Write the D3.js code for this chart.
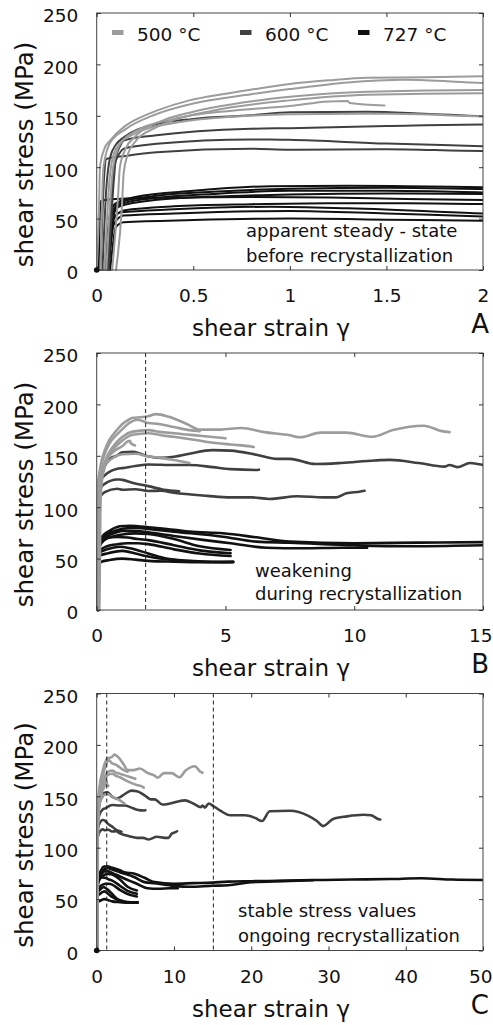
<!DOCTYPE html>
<html><head><meta charset="utf-8">
<script src="https://cdn.jsdelivr.net/npm/d3@7"></script>
<style>
body{margin:0;background:#fff}
svg{display:block}
text{font-family:"DejaVu Sans",sans-serif;fill:#111}
</style>
</head><body><svg id="c" width="493" height="1025"></svg>
<script>
// ---------------- DATA ----------------
const temperatures = ["500 °C", "600 °C", "727 °C"];
const yTicks = [0, 50, 100, 150, 200, 250];
const xTicksA = [0, 0.5, 1, 1.5, 2];
const xTicksB = [0, 5, 10, 15];
const xTicksC = [0, 10, 20, 30, 40, 50];
const xMaxes = [2, 15, 50];
const dashedB = [1.9];
const dashedC = [1.3, 15.1];
const notesA = ["apparent steady - state", "before recrystallization"];
const notesB = ["weakening", "during recrystallization"];
const notesC = ["stable stress values", "ongoing recrystallization"];
const panelLetters = ["A", "B", "C"];
const xTitle = "shear strain γ";
const yTitle = "shear stress (MPa)";

// [shear strain, shear stress MPa]
const curves500 = [
  [[0,0],[0.012,60],[0.017,100],[0.04,118],[0.07,126],[0.14,139],[0.2,146],[0.31,155],[0.48,165],[0.65,171],[0.8,175.5],[1.0,181],[1.2,184.5],[1.4,187],[1.7,187.5],[2.0,188.5],[2.3,190.5],[2.8,188],[3.5,181],[4.0,175.5],[4.8,175.5],[5.6,177],[6.5,173],[7.5,170],[7.9,168],[8.7,172.5],[9.7,172.5],[10.7,168.5],[11.5,175],[12.7,179.3],[13.4,174],[13.7,173]],
  [[0.02,0],[0.035,100],[0.07,124],[0.15,137],[0.3,151],[0.5,162],[0.8,171],[1.0,176],[1.3,182.5],[1.6,185],[2.0,182],[2.4,181],[3.0,178],[3.6,175],[4.0,174]],
  [[0.08,0],[0.11,70],[0.12,100],[0.15,118],[0.2,130],[0.35,146],[0.5,154],[0.8,164],[1.0,168.5],[1.4,173.5],[2.0,175],[2.5,173],[3.0,172],[4.0,169.5],[5.0,167]],
  [[0.1,0],[0.13,60],[0.14,95],[0.16,112],[0.2,125],[0.3,138],[0.4,146],[0.6,155],[1.0,165],[1.4,170.5],[2.0,172],[2.5,170],[3.0,168.5],[4.3,163.5],[5.2,161],[6.0,159],[6.1,158.5]],
  [[0.05,0],[0.085,100],[0.12,122],[0.2,135],[0.4,147],[0.7,155],[1.0,159.5],[1.2,164],[1.3,164.5],[1.31,162.5],[1.49,160]],
  [[0.04,0],[0.07,95],[0.1,118],[0.2,133],[0.4,143],[0.7,149],[1.0,151.5],[1.5,152],[2.0,149.5],[2.5,148],[3.0,146],[3.6,143]]
];
const curves600 = [
  [[0.03,0],[0.05,80],[0.07,110],[0.1,122],[0.14,129],[0.31,142],[0.5,147],[0.8,150.5],[1.0,153.5],[1.4,154],[1.7,152],[2.0,149.5],[2.5,148],[3.0,149],[3.6,152],[4.5,155.5],[5.2,155],[6.2,151],[7.0,147],[7.5,147],[8.5,142],[9.5,143],[10.8,145.5],[11.4,146],[12.5,143],[13.5,139.5],[13.7,141],[14.0,139],[14.5,143],[15.1,140.5],[16.0,136],[17.3,131.5],[19.2,131.5],[20.5,129],[21.4,126],[22.4,135.5],[25.0,136],[27.4,131],[28.5,126],[29.3,121],[30.6,128],[32.4,130.5],[34.5,132],[35.5,131.5],[36.4,128],[36.7,127.5]],
  [[0.06,0],[0.09,90],[0.1,110],[0.12,120],[0.14,126],[0.31,131],[0.8,137.4],[1.0,138],[1.5,140],[2.0,141.6],[3.0,141],[3.6,141],[4.5,139],[5.2,137],[6.2,136.2],[6.3,136.5]],
  [[0.06,0],[0.09,100],[0.12,114],[0.14,118],[0.31,122.7],[0.8,127],[0.9,127],[1.0,126.6],[1.5,123],[2.0,120.5],[2.6,117],[3.0,116],[3.2,115.5]],
  [[0.02,0],[0.04,95],[0.05,108],[0.15,111],[0.31,114.6],[0.8,117.9],[1.0,117],[1.5,117.5],[2.0,115.8],[2.5,116],[3.0,114],[4.3,111],[5.2,109.6],[6.0,109.6],[6.7,108],[7.8,110.6],[8.8,109.6],[9.3,109.6],[9.7,113.5],[10.2,115.1],[10.4,116]]
];
const curves727 = [
  [[0.04,0],[0.07,55],[0.1,65],[0.2,71],[0.5,77],[0.9,81.5],[1.3,82],[1.6,81.5],[2.0,80.5],[3.0,78],[3.6,76.2],[4.9,74.6],[6.2,70.7],[7.5,66.5],[10.0,65],[12.5,65.5],[15.0,66],[17.0,67],[20.0,67.4],[25.0,68],[28.0,68.6],[33.0,69],[38.0,69.5],[42.0,70.3],[46.0,69],[50.0,68.6]],
  [[0.05,0],[0.08,55],[0.12,66],[0.3,72],[0.6,76],[1.0,79],[1.5,80],[2.0,78.8],[3.0,76.2],[4.9,71.3],[6.2,66.5],[7.5,65.5],[10.0,63],[12.0,62],[15.0,63],[17.0,63.5],[20.0,66.5],[24.0,67.5],[28.0,68.3]],
  [[0.06,0],[0.09,55],[0.12,64],[0.3,70],[0.6,74],[1.0,77],[1.5,77],[2.0,75.5],[3.0,72],[4.2,68],[5.2,64.9],[6.6,60.5],[8.0,60],[9.5,60.5],[10.5,60.5]],
  [[0.05,0],[0.08,55],[0.12,62],[0.3,68],[0.7,72],[1.0,73.5],[1.5,74.5],[2.0,74],[3.0,69],[4.0,62],[5.2,58.4]],
  [[0.01,0],[0.02,67],[0.1,69],[0.4,70.5],[0.8,71],[1.2,70.5],[1.6,69],[2.0,68],[3.0,63],[4.0,58],[5.2,55.2]],
  [[0.06,0],[0.09,50],[0.14,58],[0.4,62],[0.8,64],[1.2,65],[1.6,65],[2.0,64.1],[3.0,59],[4.0,55],[5.2,52.5]],
  [[0.05,0],[0.08,48],[0.12,56],[0.4,59],[0.9,61.5],[1.3,60],[2.0,55],[2.7,50],[3.4,48],[4.5,47],[5.3,47]],
  [[0.06,0],[0.09,45],[0.14,53],[0.4,55],[1.0,57.5],[1.5,55],[2.0,52],[3.0,48.5],[4.0,47],[5.3,46.5]],
  [[0.07,0],[0.1,42],[0.14,46.5],[0.5,48.6],[1.0,50],[1.5,49],[2.0,47.8],[3.0,47],[4.2,46.5],[5.3,46.8]]
];

// ---------------- LAYOUT / STYLE ----------------
const colors = ["#9c9c9c", "#404040", "#111111"];
const groups = [curves727, curves600, curves500];
const groupColors = [colors[2], colors[1], colors[0]];
const left = 96.7, right = 483, plotH = 257, pageW = 493;
const tops = [13, 353, 693.5];
const xTicksAll = [xTicksA, xTicksB, xTicksC];
const dashedAll = [[], dashedB, dashedC];
const notesAll = [notesA, notesB, notesC];
const noteX = [246, 255, 238];
const noteBase = [[237, 262], [577, 600], [917, 942]];
const originDot = [true, false, true];
const fmt = d => String(d);

const svg = d3.select("#c");

tops.forEach((top, i) => {
  const bottom = top + plotH;
  const x = d3.scaleLinear().domain([0, xMaxes[i]]).range([left, right]);
  const y = d3.scaleLinear().domain([0, 250]).range([bottom, top]);
  const g = svg.append("g");

  const clipId = "clip" + i;
  svg.append("clipPath").attr("id", clipId).append("rect")
    .attr("x", left).attr("y", top - 2).attr("width", right - left).attr("height", plotH + 4);

  const line = d3.line().x(d => x(d[0])).y(d => y(d[1])).curve(d3.curveMonotoneX);
  const lw = i === 0 ? 2 : 2.6;
  const cg = g.append("g").attr("clip-path", `url(#${clipId})`);
  groups.forEach((set, k) => {
    cg.selectAll(null).data(set).enter().append("path")
      .attr("d", line).attr("fill", "none")
      .attr("stroke", groupColors[k]).attr("stroke-width", lw)
      .attr("stroke-linejoin", "round").attr("stroke-linecap", "round");
  });

  // dashed lines
  g.selectAll(null).data(dashedAll[i]).enter().append("line")
    .attr("x1", d => x(d)).attr("x2", d => x(d))
    .attr("y1", top).attr("y2", bottom)
    .attr("stroke", "#222").attr("stroke-width", 1).attr("stroke-dasharray", "4,3");

  // frame
  g.append("rect").attr("x", left).attr("y", top).attr("width", right - left).attr("height", plotH)
    .attr("fill", "none").attr("stroke", "#444").attr("stroke-width", 1);

  // axes
  const ax = (gen, tx, ty) => {
    const a = g.append("g").attr("transform", `translate(${tx},${ty})`).call(gen);
    a.select(".domain").remove();
    a.selectAll("line").attr("stroke", "#333");
    return a;
  };
  const xb = ax(d3.axisBottom(x).tickValues(xTicksAll[i]).tickFormat(fmt).tickSize(-4).tickPadding(19), 0, bottom);
  ax(d3.axisTop(x).tickValues(xTicksAll[i]).tickFormat("").tickSize(-4), 0, top);
  const yl = ax(d3.axisLeft(y).tickValues(yTicks).tickFormat(fmt).tickSize(-4).tickPadding(18.5), left, 0);
  ax(d3.axisRight(y).tickValues(yTicks).tickFormat("").tickSize(-4), right, 0);
  [xb, yl].forEach(a => a.selectAll("text").attr("font-size", 18.5).attr("font-family", '"DejaVu Sans",sans-serif').attr("fill", "#111"));
  yl.selectAll("text").attr("dy", "0.48em");
  // keep the last x label inside the page
  xb.selectAll("text").each(function(d) {
    const w = this.getComputedTextLength();
    if (x(d) + w / 2 > pageW - 1) {
      d3.select(this).attr("text-anchor", "end").attr("x", pageW - 1 - x(d));
    }
  });

  // origin dot
  if (originDot[i]) {
    g.append("circle").attr("cx", x(0)).attr("cy", y(0)).attr("r", 2.8).attr("fill", "#111");
  }

  // titles
  g.append("text").attr("x", 271).attr("y", bottom + 66).attr("text-anchor", "middle")
    .attr("font-size", 23).text(xTitle);
  g.append("text").attr("transform", `translate(33,${(top + bottom) / 2 + 13}) rotate(-90)`)
    .attr("text-anchor", "middle").attr("font-size", 24.5).text(yTitle);
  g.append("text").attr("x", 489).attr("y", bottom + 63).attr("text-anchor", "end")
    .attr("font-size", 26).text(panelLetters[i]);

  // notes
  notesAll[i].forEach((t, j) => {
    g.append("text").attr("x", noteX[i]).attr("y", noteBase[i][j]).attr("font-size", 18).text(t);
  });

  // legend (panel A)
  if (i === 0) {
    const lx = [112, 240, 358];
    temperatures.forEach((t, k) => {
      g.append("line").attr("x1", lx[k]).attr("x2", lx[k] + 11.5).attr("y1", 32.5).attr("y2", 32.5)
        .attr("stroke", colors[k]).attr("stroke-width", 5);
      g.append("text").attr("x", lx[k] + 25).attr("y", 40.5).attr("font-size", 18.5).text(t);
    });
  }
});
</script>
</body></html>
